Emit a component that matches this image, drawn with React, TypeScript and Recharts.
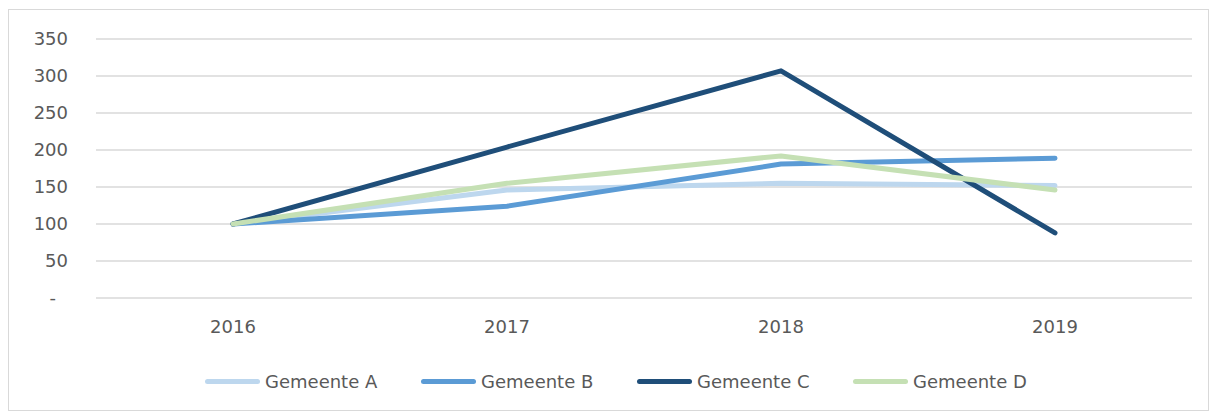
import React from "react"
import { LineChart, Line, XAxis, YAxis, CartesianGrid, Legend } from "recharts"

const years = ["2016", "2017", "2018", "2019"]
const gemeenteA = [100, 146, 155, 152]
const gemeenteB = [100, 124, 181, 189]
const gemeenteC = [100, 204, 307, 88]
const gemeenteD = [100, 155, 192, 146]
const yTicks = [0, 50, 100, 150, 200, 250, 300, 350]

const SERIES = [
  { key: "a", label: "Gemeente A", color: "#BDD7EE", values: gemeenteA },
  { key: "b", label: "Gemeente B", color: "#5B9BD5", values: gemeenteB },
  { key: "c", label: "Gemeente C", color: "#1F4E79", values: gemeenteC },
  { key: "d", label: "Gemeente D", color: "#C5E0B4", values: gemeenteD },
]

const data = years.map((year, i) => {
  const row: Record<string, string | number> = { year }
  SERIES.forEach((s) => (row[s.key] = s.values[i]))
  return row
})

const FONT = "'DejaVu Sans', sans-serif"
const TEXT = "#595959"

function YTick({ x, y, payload }: any) {
  const isZero = payload.value === 0
  return (
    <text x={isZero ? x - 12 : x} y={y} dy="0.35em" textAnchor="end" fill={TEXT} fontSize={18} fontFamily={FONT}>
      {isZero ? "-" : payload.value}
    </text>
  )
}

function LegendContent() {
  return (
    <div style={{ display: "flex", paddingLeft: 205, fontFamily: FONT, fontSize: 18, color: TEXT }}>
      {SERIES.map((s) => (
        <div key={s.key} style={{ display: "flex", alignItems: "center", gap: 5, width: 216 }}>
          <span style={{ display: "inline-block", width: 55, height: 5, borderRadius: 3, background: s.color }} />
          <span>{s.label}</span>
        </div>
      ))}
    </div>
  )
}

export default function App() {
  return (
    <div style={{ position: "relative", width: 1219, height: 412, background: "#fff" }}>
      <style>{"body{margin:0}"}</style>
      <div style={{ position: "absolute", left: 8, top: 9, width: 1199, height: 400, border: "1px solid #d9d9d9" }} />
      <div style={{ position: "absolute", left: 0, top: 0 }}>
        <LineChart width={1219} height={412} data={data} margin={{ top: 39, right: 27, left: 0, bottom: 0 }}>
          <CartesianGrid vertical={false} stroke="#d9d9d9" strokeWidth={1.3} />
          <XAxis
            dataKey="year"
            axisLine={false}
            tickLine={false}
            tickSize={0}
            tickMargin={22}
            padding={{ left: 137, right: 137 }}
            height={93}
            tick={{ fill: TEXT, fontSize: 18, fontFamily: FONT }}
          />
          <YAxis
            domain={[0, 350]}
            ticks={yTicks}
            axisLine={false}
            tickLine={false}
            tickSize={0}
            tickMargin={28}
            width={96}
            tick={<YTick />}
          />
          <Legend
            content={<LegendContent />}
            wrapperStyle={{ position: "absolute", top: 371, left: 0, width: 1219 }}
          />
          {SERIES.map((s) => (
            <Line
              key={s.key}
              dataKey={s.key}
              name={s.label}
              stroke={s.color}
              strokeWidth={5}
              strokeLinecap="round"
              strokeLinejoin="round"
              dot={false}
              activeDot={false}
              isAnimationActive={false}
            />
          ))}
        </LineChart>
      </div>
    </div>
  )
}
